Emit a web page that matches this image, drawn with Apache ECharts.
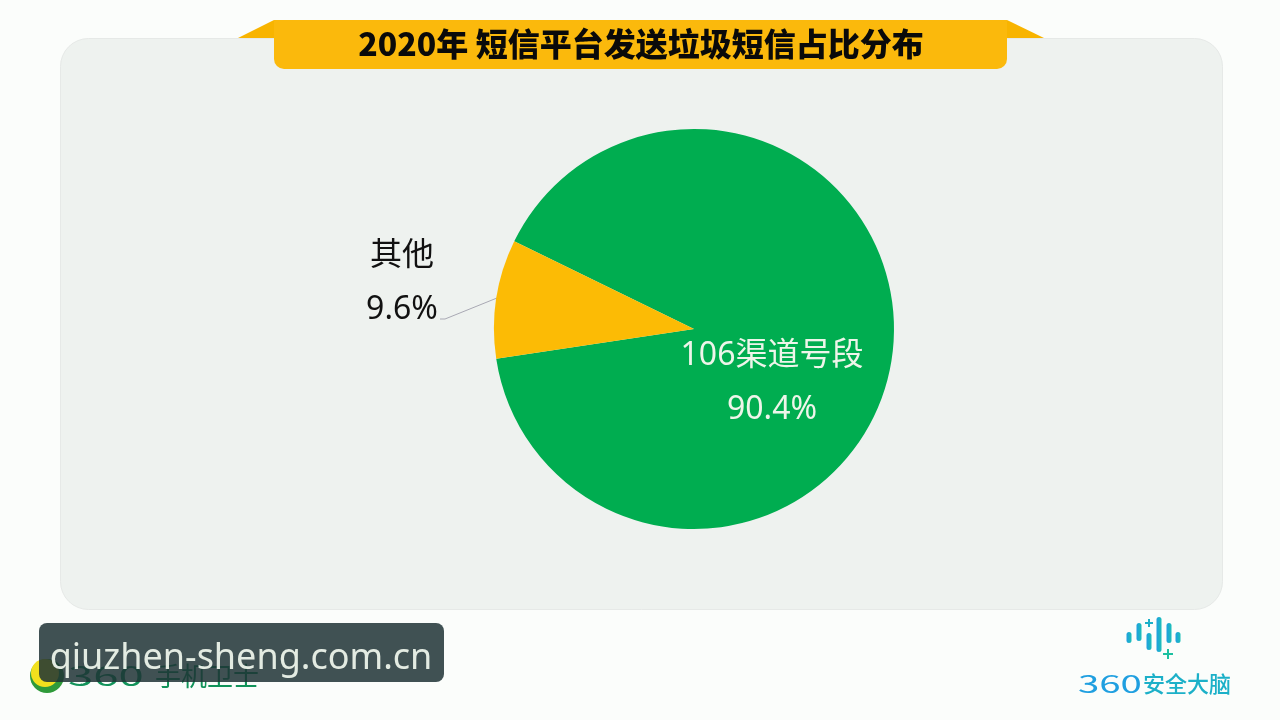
<!DOCTYPE html>
<html lang="zh">
<head>
    <meta charset="UTF-8">
    <title>2020年 短信平台发送垃圾短信占比分布</title>
    <script src="https://cdn.jsdelivr.net/npm/echarts@6/dist/echarts.min.js"></script>
    <style>
        html, body { margin: 0; padding: 0; background: #fbfdfb; }
    </style>
</head>
<body>
<div id="myChart" style="width: 1280px;height: 720px;"></div>

<script>
    var categories = ['106渠道号段', '其他'];
    var values = [90.4, 9.6];
    var colors = ['#00ad50', '#fcbb05'];
    var titleText = '2020年 短信平台发送垃圾短信占比分布';
    var watermark = 'qiuzhen-sheng.com.cn';

    var cjk = '"Noto Sans CJK SC", "Noto Sans", sans-serif';
    var myChart = echarts.init(document.getElementById('myChart'));

    // 右下角图标的竖条 [x, 上, 下]
    var brainBars = [[1129, 632, 643], [1139, 623, 641], [1149, 633, 650], [1159, 617, 652], [1169, 623, 643], [1178, 632, 643]];
    var brainColor = new echarts.graphic.LinearGradient(0, 0, 1, 0, [
        { offset: 0, color: '#1f9fe0' },
        { offset: 1, color: '#1cc0b8' }
    ]);

    var decor = [
        // 背景面板
        { type: 'rect', z: 0, shape: { x: 60.5, y: 38.5, width: 1162, height: 571, r: 28 },
          style: { fill: '#eef2ef', stroke: '#e6e9e7', lineWidth: 1 } },
        // 标题飘带
        { type: 'polygon', z: 1, shape: { points: [[238, 38], [274, 20], [274, 38]] }, style: { fill: '#f8b400' } },
        { type: 'polygon', z: 1, shape: { points: [[1007, 20], [1044, 38], [1007, 38]] }, style: { fill: '#f8b400' } },
        { type: 'rect', z: 2, shape: { x: 274, y: 20, width: 733, height: 49, r: [0, 0, 10, 10] }, style: { fill: '#fbb90c' } },
        // 360手机卫士
        { type: 'circle', z: 3, shape: { cx: 47, cy: 676, r: 17 }, style: { fill: '#2f9a3a' } },
        { type: 'circle', z: 3, shape: { cx: 45, cy: 673, r: 14 }, style: { fill: '#f2e01e' } },
        { type: 'text', z: 3, x: 68, y: 676, scaleX: 1.75, scaleY: 1.05,
          style: { text: '360', fill: '#12935a', font: '400 26px ' + cjk, verticalAlign: 'middle' } },
        { type: 'text', z: 3, x: 155, y: 676,
          style: { text: '手机卫士', fill: '#12935a', font: '400 26px ' + cjk, verticalAlign: 'middle' } },
        // 水印
        { type: 'rect', z: 4, shape: { x: 39, y: 623, width: 405, height: 59, r: 8 }, style: { fill: '#1f3335', opacity: 0.85 } },
        { type: 'text', z: 5, x: 241, y: 659,
          style: { text: watermark, fill: '#e3ebe2', font: '36px "Noto Sans", sans-serif', align: 'center', verticalAlign: 'middle' } },
        // 360安全大脑
        { type: 'text', z: 3, x: 1078, y: 684, scaleX: 1.6,
          style: { text: '360', fill: '#1f9fe0', font: '400 24px ' + cjk, verticalAlign: 'middle' } },
        { type: 'text', z: 3, x: 1143, y: 684,
          style: { text: '安全大脑', fill: '#1cb0c8', font: '500 22px ' + cjk, verticalAlign: 'middle' } },
        { type: 'rect', z: 3, shape: { x: 1145, y: 622, width: 8, height: 2 }, style: { fill: '#1cb0c8' } },
        { type: 'rect', z: 3, shape: { x: 1148, y: 619, width: 2, height: 8 }, style: { fill: '#1cb0c8' } },
        { type: 'rect', z: 3, shape: { x: 1163, y: 653, width: 10, height: 2 }, style: { fill: '#1cc0a0' } },
        { type: 'rect', z: 3, shape: { x: 1167, y: 649, width: 2, height: 10 }, style: { fill: '#1cc0a0' } }
    ];
    brainBars.forEach(function (b) {
        decor.push({ type: 'rect', z: 3, shape: { x: b[0] - 2.5, y: b[1], width: 5, height: b[2] - b[1], r: 2.5 }, style: { fill: brainColor } });
    });

    var option = {
        backgroundColor: '#fbfdfb',
        animation: false,
        title: {
            text: titleText,
            left: 636,
            top: 39,
            textAlign: 'center',
            textVerticalAlign: 'middle',
            textStyle: { color: '#0a0a0a', fontSize: 32, fontWeight: 900, fontFamily: cjk }
        },
        graphic: decor,
        series: [{
            type: 'pie',
            center: [694, 329],
            radius: [0, 200],
            startAngle: 154,
            clockwise: true,
            z: 3,
            data: categories.map(function (name, i) {
                return {
                    name: name,
                    value: values[i],
                    itemStyle: { color: colors[i] },
                    label: i === 0
                        ? { position: 'inside', color: '#eef5ea' }
                        : { position: 'outside', color: '#111' },
                    labelLine: { show: i === 1, length: 55, length2: 4, smooth: false,
                        lineStyle: { color: '#a9a9b4', width: 1 } }
                };
            }),
            label: {
                formatter: function (p) { return p.name + '\n' + p.value + '%'; },
                fontFamily: '"Noto Sans", "Noto Sans CJK SC", sans-serif',
                fontSize: 32,
                lineHeight: 54,
                align: 'center'
            },
            labelLayout: function (p) {
                if (p.dataIndex === 0) {
                    return { x: 772, y: 383, align: 'center', verticalAlign: 'middle' };
                }
                // 引导线从扇形边缘斜向下连到百分比右下角
                return {
                    x: 402, y: 283, align: 'center', verticalAlign: 'middle',
                    labelLinePoints: [[497, 298], [445, 319], [440, 319]]
                };
            }
        }]
    };
    myChart.setOption(option);
</script>
</body>
</html>
